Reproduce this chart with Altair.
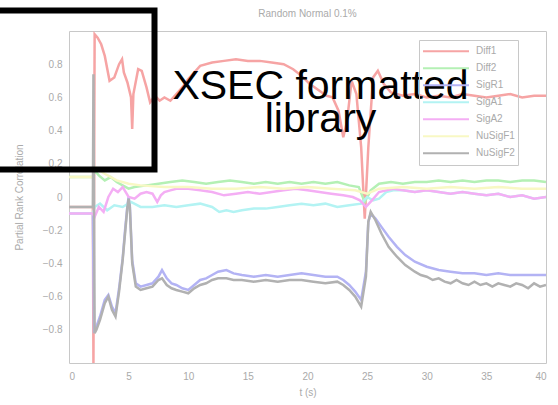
import altair as alt
import pandas as pd

# Partial rank correlation of each cross-section parameter versus time
series_names = ["Diff1", "Diff2", "SigR1", "SigA1", "SigA2", "NuSigF1", "NuSigF2"]
series_colors = ["#f6a4a4", "#b4f0b4", "#b3b3f4", "#b3f3f3", "#f4aef4", "#f8f8c4", "#b1b1b1"]

t_diff1 = [0, 2.0, 2.05, 2.15, 2.4, 2.7, 3.0, 3.4, 3.8, 4.2, 4.45, 4.6, 4.9, 5.2, 5.3, 5.4,
           5.8, 6.1, 6.5, 6.8, 7.2, 7.6, 8.0, 8.5, 9.0, 9.5, 10, 10.5, 11, 12, 13, 14, 15, 16,
           17, 18, 18.8, 19.5, 20.2, 21, 21.6, 22.1, 22.6, 23.0, 23.3, 23.7, 24.1, 24.5, 24.8,
           25.1, 25.5, 25.9, 26.4, 27, 28, 29, 30, 31, 32, 33, 34, 35, 36, 37, 38, 39, 40]
v_diff1 = [-0.06, -0.06, -1.0, 0.98, 0.96, 0.92, 0.85, 0.70, 0.72, 0.80, 0.83, 0.75, 0.69, 0.60,
           0.41, 0.62, 0.77, 0.76, 0.66, 0.57, 0.61, 0.58, 0.60, 0.58, 0.62, 0.66, 0.71, 0.75,
           0.79, 0.81, 0.82, 0.83, 0.82, 0.82, 0.81, 0.80, 0.77, 0.73, 0.68, 0.64, 0.61, 0.60,
           0.52, 0.36, 0.45, 0.70, 0.62, 0.30, -0.13, 0.30, 0.72, 0.76, 0.68, 0.63, 0.61, 0.62,
           0.60, 0.61, 0.60, 0.62, 0.61, 0.60, 0.61, 0.62, 0.60, 0.61, 0.61]

t_diff2 = [0, 2.0, 2.15, 2.5, 3.0, 3.5, 4.0, 4.5, 5.0, 5.5, 6.5, 7.5, 8.5, 9.5, 10.5, 11.5,
           12.5, 13.5, 14.5, 15.5, 16.5, 17.5, 18.5, 19.5, 20.5, 21.5, 22.5, 23.5, 24.3, 24.8,
           25.3, 26, 27, 28, 29, 30, 31, 32, 33, 34, 35, 36, 37, 38, 39, 40]
v_diff2 = [0.12, 0.12, 0.16, 0.13, 0.10, 0.12, 0.09, 0.07, 0.05, 0.06, 0.07, 0.08, 0.09, 0.10,
           0.09, 0.08, 0.09, 0.10, 0.09, 0.08, 0.09, 0.08, 0.09, 0.08, 0.09, 0.08, 0.09, 0.07,
           0.06, -0.03, 0.04, 0.08, 0.09, 0.08, 0.09, 0.09, 0.10, 0.09, 0.10, 0.09, 0.10, 0.10,
           0.09, 0.10, 0.10, 0.09]

t_sigr1 = [0, 2.0, 2.1, 2.3, 2.6, 3.0, 3.3, 3.6, 3.9, 4.2, 4.5, 4.7, 4.9, 5.0, 5.1, 5.3, 5.6,
           6.0, 6.5, 7.0, 7.5, 7.8, 8.2, 8.6, 9.0, 9.5, 10.0, 10.5, 11, 11.5, 12, 12.5, 13.2,
           13.8, 14.5, 15.5, 16.5, 17.5, 18.5, 19.5, 20.5, 21.5, 22.5, 23.0, 23.5, 24.0, 24.5,
           24.9, 25.1, 25.3, 25.7, 26.2, 26.8, 27.5, 28.2, 29, 30, 31, 32, 33, 34, 35, 36, 37,
           38, 39, 40]
v_sigr1 = [-0.10, -0.10, -0.80, -0.78, -0.72, -0.62, -0.59, -0.66, -0.70, -0.55, -0.37, -0.20,
           -0.05, 0.0, -0.05, -0.38, -0.52, -0.54, -0.53, -0.52, -0.48, -0.44, -0.49, -0.52,
           -0.53, -0.55, -0.56, -0.53, -0.50, -0.49, -0.47, -0.45, -0.44, -0.46, -0.47, -0.48,
           -0.47, -0.48, -0.47, -0.46, -0.47, -0.48, -0.48, -0.50, -0.53, -0.57, -0.62, -0.45,
           -0.15, -0.10, -0.13, -0.18, -0.24, -0.30, -0.35, -0.39, -0.42, -0.44, -0.45, -0.46,
           -0.46, -0.47, -0.46, -0.47, -0.47, -0.47, -0.47]

t_siga1 = [0, 2.0, 2.15, 2.6, 3.2, 3.8, 4.5, 5.2, 6.0, 7.0, 8.0, 9.0, 10.0, 11, 12, 12.6, 13.2,
           13.8, 14.5, 15.5, 16.5, 17.5, 18.5, 19.5, 20.5, 21.5, 22.5, 23.5, 24.5, 25.0, 25.5,
           26.0, 26.6, 27.2, 28, 29, 30, 31, 32, 33, 34, 35, 36, 37, 38, 39, 40]
v_siga1 = [-0.10, -0.10, -0.06, -0.04, -0.08, -0.05, -0.06, -0.03, -0.06, -0.06, -0.05, -0.06,
           -0.05, -0.04, -0.06, -0.09, -0.08, -0.09, -0.08, -0.07, -0.07, -0.06, -0.05, -0.04,
           -0.05, -0.04, -0.06, -0.05, -0.04, 0.0, -0.02, -0.01, 0.03, 0.04, 0.04, 0.03, 0.04,
           0.03, 0.02, 0.03, 0.02, 0.01, 0.02, 0.0, 0.01, -0.01, 0.0]

t_siga2 = [0, 2.0, 2.15, 2.5, 2.9, 3.3, 3.7, 4.1, 4.5, 5.0, 5.5, 6.0, 6.5, 7.0, 7.4, 7.7, 8.0,
           8.5, 9.0, 10, 11, 12, 13, 14, 15, 16, 17, 18, 19, 20, 21, 22, 23, 23.8, 24.4, 24.9,
           25.4, 26.0, 26.6, 27.2, 28, 29, 30, 31, 32, 33, 34, 35, 36, 37, 38, 39, 40]
v_siga2 = [-0.10, -0.10, -0.12, -0.06, -0.09, 0.0, 0.05, 0.03, 0.06, 0.0, -0.01, 0.02, 0.03,
           0.02, -0.03, 0.01, 0.03, 0.04, 0.05, 0.05, 0.04, 0.03, 0.01, 0.02, 0.03, 0.02, 0.03,
           0.04, 0.05, 0.04, 0.03, 0.02, 0.01, 0.0, -0.02, -0.06, -0.02, 0.03, 0.04, 0.05, 0.04,
           0.03, 0.04, 0.03, 0.02, 0.03, 0.02, 0.01, 0.02, 0.0, 0.01, -0.01, 0.0]

t_nusigf1 = [0, 2.0, 2.15, 3, 4, 5, 6, 8, 10, 12, 14, 16, 18, 20, 22, 24, 25, 26, 28, 30, 32,
             34, 36, 38, 40]
v_nusigf1 = [0.12, 0.12, 0.18, 0.14, 0.10, 0.08, 0.07, 0.06, 0.06, 0.05, 0.05, 0.06, 0.05, 0.06,
             0.05, 0.04, 0.02, 0.05, 0.06, 0.05, 0.06, 0.05, 0.06, 0.05, 0.05]

t_nusigf2 = [0, 2.0, 2.05, 2.15, 2.3, 2.6, 3.0, 3.3, 3.6, 3.9, 4.2, 4.5, 4.7, 4.9, 5.0, 5.1,
             5.3, 5.6, 6.0, 6.5, 7.0, 7.5, 7.8, 8.2, 8.6, 9.0, 9.5, 10.0, 10.5, 11, 11.5, 12,
             12.5, 13.2, 13.8, 14.5, 15.5, 16.5, 17.5, 18.5, 19.5, 20.5, 21.5, 22.5, 23.0, 23.5,
             24.0, 24.5, 24.9, 25.1, 25.3, 25.7, 26.2, 26.8, 27.5, 28.2, 29, 29.5, 30, 30.5, 31,
             31.5, 32, 32.5, 33, 33.5, 34, 34.5, 35, 35.5, 36, 36.5, 37, 37.5, 38, 38.5, 39,
             39.5, 40]
v_nusigf2 = [-0.06, -0.06, 0.74, -0.82, -0.80, -0.74, -0.64, -0.60, -0.68, -0.72, -0.57, -0.38,
             -0.22, -0.06, -0.01, -0.06, -0.40, -0.54, -0.56, -0.55, -0.54, -0.50, -0.49, -0.53,
             -0.55, -0.56, -0.57, -0.58, -0.55, -0.53, -0.52, -0.50, -0.49, -0.49, -0.50, -0.50,
             -0.51, -0.50, -0.51, -0.50, -0.50, -0.51, -0.52, -0.51, -0.53, -0.56, -0.60, -0.66,
             -0.48, -0.15, -0.09, -0.14, -0.22, -0.30, -0.36, -0.41, -0.45, -0.47, -0.48, -0.50,
             -0.49, -0.51, -0.52, -0.50, -0.52, -0.53, -0.51, -0.53, -0.52, -0.54, -0.52, -0.53,
             -0.54, -0.52, -0.53, -0.55, -0.52, -0.54, -0.53]

series_t = [t_diff1, t_diff2, t_sigr1, t_siga1, t_siga2, t_nusigf1, t_nusigf2]
series_v = [v_diff1, v_diff2, v_sigr1, v_siga1, v_siga2, v_nusigf1, v_nusigf2]

rows = []
for idx, (name, ts, vs) in enumerate(zip(series_names, series_t, series_v)):
    for t, v in zip(ts, vs):
        rows.append({"param": name, "layer": idx, "t": t, "prcc": v})
df = pd.DataFrame(rows)

x_ticks = [0, 5, 10, 15, 20, 25, 30, 35, 40]
y_ticks = [-0.8, -0.6, -0.4, -0.2, 0, 0.2, 0.4, 0.6, 0.8]

axis_grey = "#aaaaaa"
font = "Liberation Sans"
plot_title = "Random Normal 0.1%"

lines = alt.Chart(df).mark_line(strokeWidth=2.5, clip=True).encode(
    x=alt.X("t:Q", scale=alt.Scale(domain=[0, 40], nice=False),
            axis=alt.Axis(values=x_ticks, title="t (s)", grid=False, domain=False, ticks=False,
                          labelPadding=8, titlePadding=6)),
    y=alt.Y("prcc:Q", scale=alt.Scale(domain=[-1, 1], nice=False),
            axis=alt.Axis(values=y_ticks, title="Partial Rank Correlation", grid=False,
                          domain=False, ticks=False, labelPadding=7, titlePadding=18,
                          labelExpr="datum.value == 0 ? '0' : format(datum.value, '.1f')")),
    color=alt.Color("param:N", sort=series_names,
                    scale=alt.Scale(domain=series_names, range=series_colors),
                    legend=alt.Legend(title=None, orient="none", legendX=350, legendY=9,
                                      symbolType="stroke", symbolSize=2116, symbolStrokeWidth=2,
                                      clipHeight=16.5, rowPadding=0, padding=3,
                                      labelOffset=6, labelFontSize=10, labelColor=axis_grey,
                                      labelFont=font, strokeColor="#c8c8c8")),
    order=alt.Order("layer:Q"),
    detail="param:N",
)

# Plot heading above the axes
heading = alt.Chart(pd.DataFrame({"txt": [plot_title]})).mark_text(
    font=font, fontSize=10, color=axis_grey, align="center", baseline="middle"
).encode(x=alt.value(238.5), y=alt.value(-17), text="txt:N")

# Annotation overlay: black frame and caption
note_box = alt.Chart(pd.DataFrame({"k": [0]})).mark_rect(
    fill=None, stroke="black", strokeWidth=6
).encode(x=alt.value(-79), x2=alt.value(85.5), y=alt.value(-20.5), y2=alt.value(138.5))

caption_lines = ["XSEC formatted", "library"]
caption1 = alt.Chart(pd.DataFrame({"txt": [caption_lines[0]]})).mark_text(
    font=font, fontSize=41, color="black", align="center", baseline="alphabetic"
).encode(x=alt.value(251.5), y=alt.value(68), text="txt:N")
caption2 = alt.Chart(pd.DataFrame({"txt": [caption_lines[1]]})).mark_text(
    font=font, fontSize=41, color="black", align="center", baseline="alphabetic"
).encode(x=alt.value(251.5), y=alt.value(101), text="txt:N")

chart = alt.layer(lines, heading, note_box, caption1, caption2).properties(
    width=477, height=332,
    background="white",
    autosize=alt.AutoSizeParams(type="none"),
    padding={"left": 69, "top": 31, "right": 12, "bottom": 42},
).configure_view(stroke="#c8c8c8", strokeWidth=1).configure_axis(
    labelColor=axis_grey, titleColor=axis_grey, labelFont=font, titleFont=font,
    labelFontSize=10, titleFontSize=10, titleFontWeight="normal"
)

chart.save("out.html", embed_options={"renderer": "svg", "actions": False})
